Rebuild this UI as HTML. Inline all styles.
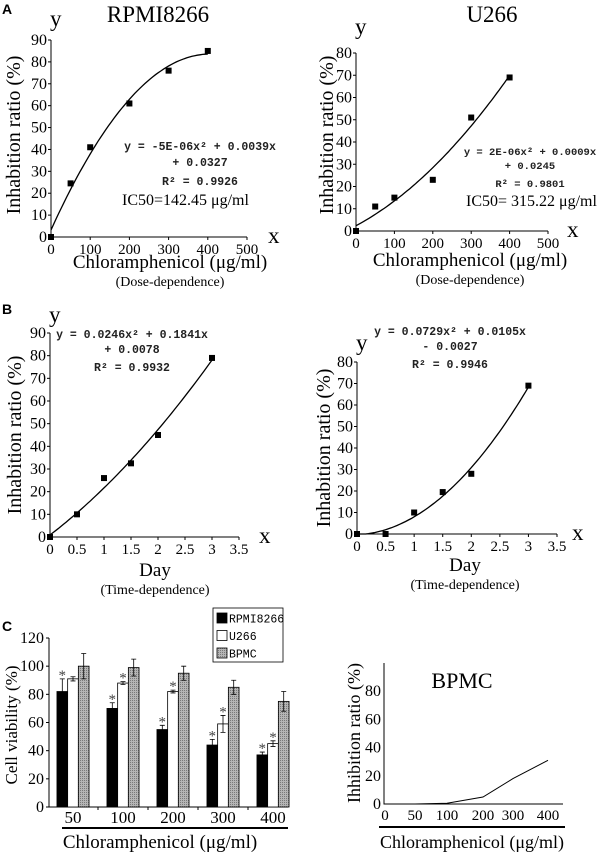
<!DOCTYPE html>
<html><head><meta charset="utf-8"><style>
html,body{margin:0;padding:0;background:#fff;}
svg{display:block;font-family:"Liberation Serif",serif;}
.mono{font-family:"Liberation Mono",monospace;}
.sans{font-family:"Liberation Sans",sans-serif;}
</style></head><body>
<svg id="fig" width="600" height="852" viewBox="0 0 600 852" xmlns="http://www.w3.org/2000/svg">
<g id="static">
<text x="2" y="14" class="sans" font-size="14" font-weight="bold">A</text>
<text x="2" y="314" class="sans" font-size="14" font-weight="bold">B</text>
<text x="2" y="631" class="sans" font-size="14" font-weight="bold">C</text>
<text x="158" y="22" font-size="23" text-anchor="middle">RPMI8266</text>
<text x="492" y="22" font-size="23" text-anchor="middle">U266</text>
<g class="mono" font-size="11.5" text-anchor="middle" font-weight="bold" fill="#222">
<text x="200" y="150">y = -5E-06x² + 0.0039x</text><text x="200" y="166">+ 0.0327</text><text x="200" y="185">R² = 0.9926</text></g>
<text x="122" y="205" font-size="16">IC50=142.45 μg/ml</text>
<g class="mono" font-size="10.5" text-anchor="middle" font-weight="bold" fill="#222">
<text x="530" y="155">y = 2E-06x² + 0.0009x</text><text x="530" y="169">+ 0.0245</text><text x="530" y="187">R² = 0.9801</text></g>
<text x="466" y="206" font-size="16">IC50= 315.22 μg/ml</text>
<g class="mono" font-size="11.5" text-anchor="middle" font-weight="bold" fill="#222">
<text x="132" y="338">y = 0.0246x² + 0.1841x</text><text x="132" y="353">+ 0.0078</text><text x="132" y="371">R² = 0.9932</text></g>
<g class="mono" font-size="11.5" text-anchor="middle" font-weight="bold" fill="#222">
<text x="450" y="335">y = 0.0729x² + 0.0105x</text><text x="450" y="350">- 0.0027</text><text x="450" y="368">R² = 0.9946</text></g>
<text x="462" y="688" font-size="22" text-anchor="middle">BPMC</text>
</g>
</svg>
<script>
// ---- data ----
const doseX = [0, 50, 100, 200, 300, 400];
const rpmiDose = [0, 24.5, 41, 61, 76, 85];
const u266Dose = [0, 11, 15, 23, 51, 69];
const dayX = [0, 0.5, 1, 1.5, 2, 3];
const rpmiTime = [0, 10, 26, 32.5, 45, 79];
const u266Time = [0, 0, 10, 19.5, 28, 69];
const doseTicks = [0, 100, 200, 300, 400, 500];
const dayTicks = ["0", "0.5", "1", "1.5", "2", "2.5", "3", "3.5"];
const barCats = ["50", "100", "200", "300", "400"];
const barRpmi = [82, 70, 55, 44, 37];
const barRpmiErr = [9, 4, 3, 4, 2];
const barU266 = [91, 88, 82, 59, 45];
const barU266Err = [1.5, 1, 1, 6, 2];
const barBpmc = [100, 99, 95, 85, 75];
const barBpmcErr = [9, 6, 5, 5, 7];
const rpmiStar = [1, 1, 1, 1, 1];
const u266Star = [0, 1, 1, 1, 1];
const bpmcCats = ["0", "50", "100", "200", "300", "400"];
const bpmcInhib = [0, 0, 0.5, 5, 18, 31];

const NS = "http://www.w3.org/2000/svg";
const svg = document.getElementById("fig");
function el(tag, attrs, parent, txt) {
  const e = document.createElementNS(NS, tag);
  for (const k in attrs) e.setAttribute(k, attrs[k]);
  if (txt !== undefined) e.textContent = txt;
  (parent || svg).appendChild(e);
  return e;
}
function fitQuad(xs, ys) {
  let S = [0,0,0,0,0], T = [0,0,0];
  for (let i = 0; i < xs.length; i++) {
    let p = 1;
    for (let k = 0; k < 5; k++) { S[k] += p; if (k < 3) T[k] += p * ys[i]; p *= xs[i]; }
  }
  const M = [[S[0],S[1],S[2],T[0]],[S[1],S[2],S[3],T[1]],[S[2],S[3],S[4],T[2]]];
  for (let i = 0; i < 3; i++) {
    for (let j = i + 1; j < 3; j++) { const f = M[j][i] / M[i][i]; for (let k = i; k < 4; k++) M[j][k] -= f * M[i][k]; }
  }
  const c = [0,0,0];
  for (let i = 2; i >= 0; i--) { let s = M[i][3]; for (let k = i + 1; k < 3; k++) s -= M[i][k] * c[k]; c[i] = s / M[i][i]; }
  return x => c[0] + c[1] * x + c[2] * x * x;
}

function scatter(g, o) {
  const sx = v => o.x0 + (v - o.xmin) / (o.xmax - o.xmin) * (o.x1 - o.x0);
  const sy = v => o.y0 - v / o.ymax * (o.y0 - o.y1);
  const grp = el("g", {}, svg);
  
  
  const ax = el("path", {d:`M${o.x0},${o.y1}V${o.y0}H${o.x1}`, stroke:"#000", fill:"none", "stroke-width":1}, grp);
  
  
  for (let v = 0; v <= o.ymax; v += o.ystep) {
    const y = sy(v);
    el("line", {x1:o.x0-3, x2:o.x0, y1:y, y2:y, stroke:"#000"}, grp);
    const t = el("text", {x:o.x0-4, y:y+5, "font-size":16, "text-anchor":"end"}, grp, String(v));
    
    
  }
  o.xticks.forEach(tv => {
    const x = sx(Number(tv));
    el("line", {x1:x, x2:x, y1:o.y0, y2:o.y0+3, stroke:"#000"}, grp);
    const t = el("text", {x:x, y:o.y0+17, "font-size":15, "text-anchor":"middle"}, grp, String(tv));
    
    
  });
  const f = fitQuad(o.xs, o.ys);
  let d = "";
  const xa = o.xs[0], xb = o.xs[o.xs.length-1];
  for (let i = 0; i <= 60; i++) { const xv = xa + (xb-xa)*i/60; d += (i?"L":"M") + sx(xv).toFixed(1) + "," + sy(Math.max(0,f(xv))).toFixed(1); }
  const tl = el("path", {d, stroke:"#000", fill:"none", "stroke-width":1.3}, grp);
  
  
  o.xs.forEach((xv, i) => {
    const p = el("rect", {x:sx(xv)-3, y:sy(o.ys[i])-3, width:6, height:6, fill:"#000"}, grp);
    
    
  });
  const yl = el("text", {x:o.ylx, y:o.ylc, "font-size":20, "text-anchor":"middle", transform:`rotate(-90 ${o.ylx} ${o.ylc})`}, grp, "Inhabition ratio (%)");
  
  
  const yy = el("text", {x:o.x0-1, y:o.yyY, "font-size":23}, grp, "y");
  
  
  const xx = el("text", {x:o.xxX, y:o.y0+6, "font-size":23}, grp, "x");
  
  
  const xl = el("text", {x:o.xlc, y:o.xlY, "font-size":o.xlSize, "text-anchor":"middle"}, grp, o.xlabel);
  
  
  const sub = el("text", {x:o.xlc, y:o.xlY+18, "font-size":14, "text-anchor":"middle"}, grp, o.sub);
  
  
}

scatter(svg, {name:"rpmi-dose-chart", xs:doseX, ys:rpmiDose, x0:51, x1:247, xmin:0, xmax:500, y0:237, y1:40, ymax:90, ystep:10, xticks:doseTicks, ylx:20, ylc:135, yyY:26, xxX:268, xlc:170, xlY:268, xlSize:19, xlabel:"Chloramphenicol (μg/ml)", sub:"(Dose-dependence)"});
scatter(svg, {name:"u266-dose-chart", xs:doseX, ys:u266Dose, x0:356, x1:548, xmin:0, xmax:500, y0:231, y1:53, ymax:80, ystep:10, xticks:doseTicks, ylx:333, ylc:135, yyY:34, xxX:567, xlc:470, xlY:266, xlSize:19, xlabel:"Chloramphenicol (μg/ml)", sub:"(Dose-dependence)"});
scatter(svg, {name:"rpmi-time-chart", xs:dayX, ys:rpmiTime, x0:50, x1:239, xmin:0, xmax:3.5, y0:537, y1:333, ymax:90, ystep:10, xticks:dayTicks, ylx:21, ylc:435, yyY:322, xxX:259, xlc:155, xlY:576, xlSize:19, xlabel:"Day", sub:"(Time-dependence)"});
scatter(svg, {name:"u266-time-chart", xs:dayX, ys:u266Time, x0:357, x1:557, xmin:0, xmax:3.5, y0:534, y1:362, ymax:80, ystep:10, xticks:dayTicks, ylx:330, ylc:448, yyY:350, xxX:572, xlc:465, xlY:571, xlSize:19, xlabel:"Day", sub:"(Time-dependence)"});

// ---- bar chart ----
(function(){
  const g = el("g", {}, svg);
  
  
  const defs = el("defs", {}, g);
  const pat = el("pattern", {id:"hatch", width:2, height:2, patternUnits:"userSpaceOnUse"}, defs);
  el("rect", {width:2, height:2, fill:"#b5b5b5"}, pat);
  el("rect", {width:1, height:1, fill:"#7a7a7a"}, pat);
  const x0 = 49, x1 = 288, y0 = 807, ymax = 120, y1 = 638;
  const sy = v => y0 - v / ymax * (y0 - y1);
  const step = 50, first = 73, bw = 10.7;
  const cx = i => first + i * step;
  el("path", {d:`M${x0},${y1}V${y0}H${x1}`, stroke:"#000", fill:"none"}, g);
  for (let v = 0; v <= ymax; v += 20) {
    el("line", {x1:x0-3, x2:x0, y1:sy(v), y2:sy(v), stroke:"#000"}, g);
    const t = el("text", {x:x0-5, y:sy(v)+5, "font-size":16, "text-anchor":"end"}, g, String(v));
    
    
  }
  for (let i = 1; i < barCats.length; i++) el("line", {x1:cx(i)-step/2, x2:cx(i)-step/2, y1:y0, y2:y0+3, stroke:"#000"}, g);
  const series = [[barRpmi, barRpmiErr, "#000", rpmiStar, "bar-rpmi8266"], [barU266, barU266Err, "#fff", u266Star, "bar-u266"], [barBpmc, barBpmcErr, "url(#hatch)", null, "bar-bpmc"]];
  barCats.forEach((c, i) => {
    series.forEach((s, k) => {
      const bx = cx(i) - 1.5*bw + k*bw, v = s[0][i], e = s[1][i];
      const r = el("rect", {x:bx, y:sy(v), width:bw, height:y0-sy(v), fill:s[2], stroke:"#000", "stroke-width":0.8}, g);
      
      
      const mx = bx + bw/2;
      el("path", {d:`M${mx},${sy(v)}V${sy(v+e)}M${mx-2.5},${sy(v+e)}H${mx+2.5}M${mx-2.5},${sy(v-e)}H${mx+2.5}M${mx},${sy(v)}V${sy(v-e)}`, stroke:"#000", "stroke-width":0.8, fill:"none"}, g);
      if (s[3] && s[3][i]) {
        const st = el("text", {x:mx, y:sy(v+e)+1, "font-size":15, "text-anchor":"middle", fill:"#444"}, g, "*");
        
        
      }
    });
    const t = el("text", {x:cx(i), y:823, "font-size":17, "text-anchor":"middle"}, g, c);
    
    
  });
  el("rect", {x:62, y:827, width:226, height:2, fill:"#000"}, g);
  const xl = el("text", {x:160, y:848, "font-size":19, "text-anchor":"middle"}, g, "Chloramphenicol (μg/ml)");
  
  
  const yl = el("text", {x:17, y:725, "font-size":17, "text-anchor":"middle", transform:"rotate(-90 17 725)"}, g, "Cell viability (%)");
  
  
  const lg = el("g", {}, g);
  
  
  el("rect", {x:213, y:608, width:70, height:54, fill:"#fff", stroke:"#000", "stroke-width":0.8}, lg);
  [["RPMI8266","#000"],["U266","#fff"],["BPMC","url(#hatch)"]].forEach((e, i) => {
    const y = 613 + i*17.5;
    el("rect", {x:217, y:y, width:10, height:10, fill:e[1], stroke:"#000", "stroke-width":0.8}, lg);
    const t = el("text", {x:229, y:y+9.5, "font-size":11.5, class:"mono"}, lg, e[0]);
    
    
  });
})();

// ---- BPMC inhibition line ----
(function(){
  const g = el("g", {}, svg);
  
  
  const x0 = 384, x1 = 563, y0 = 804, y1 = 663;
  const sy = v => y0 - v / 100 * (y0 - y1);
  const catX = [385, 415, 447, 483, 513, 548]; // category label positions (layout)
  el("path", {d:`M${x0},${y1}V${y0}H${x1}`, stroke:"#000", fill:"none"}, g);
  for (let v = 0; v <= 80; v += 20) {
    const t = el("text", {x:x0-3, y:sy(v)+5, "font-size":16, "text-anchor":"end"}, g, String(v));
    
    
  }
  let d = "";
  bpmcInhib.forEach((v, i) => { const x = i === 0 ? 400 : catX[i]; d += (i?"L":"M") + x + "," + sy(v).toFixed(1); });
  const ln = el("path", {d, stroke:"#000", fill:"none", "stroke-width":1}, g);
  
  
  bpmcCats.forEach((c, i) => {
    const t = el("text", {x:catX[i], y:820, "font-size":15, "text-anchor":"middle"}, g, c);
    
    
  });
  el("rect", {x:379, y:826, width:186, height:2, fill:"#000"}, g);
  const xl = el("text", {x:472, y:848, "font-size":18, "text-anchor":"middle"}, g, "Chloramphenicol (μg/ml)");
  
  
  const yl = el("text", {x:360, y:733, "font-size":18, "text-anchor":"middle", transform:"rotate(-90 360 733)"}, g, "Ihhibition ratio (%)");
  
  
})();
</script>
</body></html>
